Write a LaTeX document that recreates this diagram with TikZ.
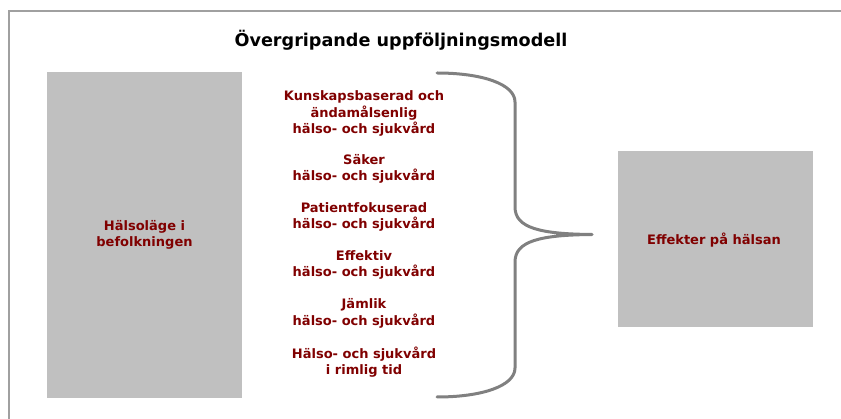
\documentclass[tikz,border=0pt]{standalone}
\usepackage{fontspec}
\setmainfont{DejaVu Sans}
\definecolor{maroonc}{HTML}{800000}
\definecolor{boxgray}{HTML}{C0C0C0}
\definecolor{bracegray}{HTML}{808080}
\definecolor{framegray}{HTML}{A0A0A0}
\tikzset{
  graybox/.style={fill=boxgray, draw=none, inner sep=0pt},
  boxtext/.style={text=maroonc, align=center, inner sep=0pt, font=\bfseries\fontsize{13}{16.3}\selectfont},
  titletext/.style={text=black, inner sep=0pt, font=\bfseries\fontsize{17.6}{20}\selectfont},
  bracestyle/.style={draw=bracegray, line width=3pt, line cap=round, line join=round},
  framestyle/.style={draw=framegray, line width=2pt}
}
\begin{document}
\begin{tikzpicture}[x=1pt, y=-1pt]
\useasboundingbox (0,0) rectangle (841,419);
% frame
\draw[framestyle] (9,425) -- (9,11) -- (850,11);
% title
\node[titletext] (title) at (401,40) {Övergripande uppföljningsmodell};
% left box
\node[graybox, minimum width=195pt, minimum height=326pt] (left) at (144.5,235) {};
\node[boxtext] (lefttext) at (left.center) {Hälsoläge i\\befolkningen};
% right box
\node[graybox, minimum width=195pt, minimum height=176pt] (right) at (715.5,239) {};
\node[boxtext] (righttext) at (714,240) {Effekter på hälsan};
% list
\node[boxtext] (g1) at (364,113.5) {Kunskapsbaserad och\\ändamålsenlig\\hälso- och sjukvård};
\node[boxtext] (g2) at (364,169) {Säker\\hälso- och sjukvård};
\node[boxtext] (g3) at (364,217) {Patientfokuserad\\hälso- och sjukvård};
\node[boxtext] (g4) at (364,265) {Effektiv\\hälso- och sjukvård};
\node[boxtext] (g5) at (364,313.5) {Jämlik\\hälso- och sjukvård};
\node[boxtext] (g6) at (364,362) {Hälso- och sjukvård\\i rimlig tid};
% brace
\coordinate (btop) at (437,73);
\coordinate (btip) at (592,234.5);
\coordinate (bbot) at (437,397);
\draw[bracestyle] (btop) .. controls (482,73) and (515,84) .. (515,102)
  -- (515,207) .. controls (515,228) and (540,234) .. (btip)
  .. controls (540,235) and (515,241) .. (515,262)
  -- (515,368) .. controls (515,386) and (482,397) .. (bbot);
\end{tikzpicture}
\end{document}
